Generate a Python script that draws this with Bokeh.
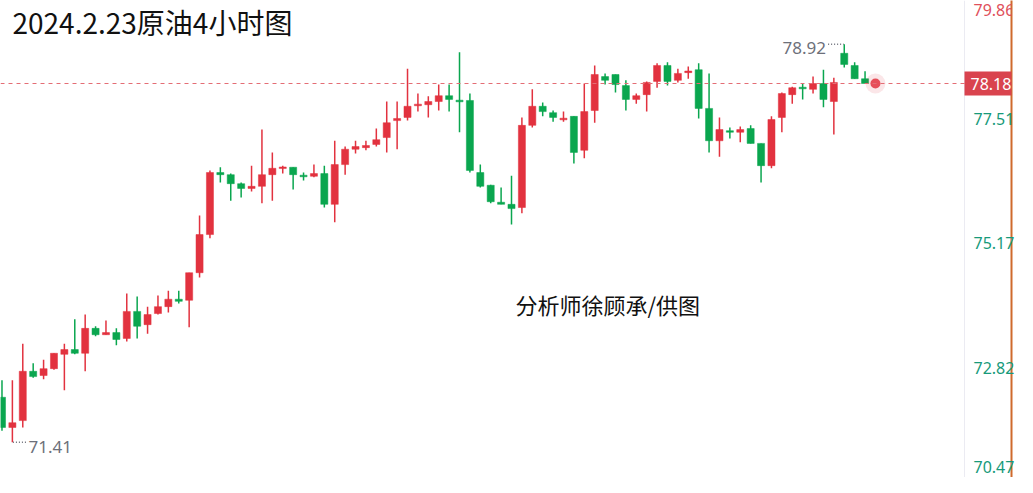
import numpy as np
from bokeh.plotting import figure
from bokeh.models import Range1d, FixedTicker, Span, Label, ColumnDataSource
from bokeh.embed import file_html
from bokeh.resources import INLINE

# ---------------- data ----------------
title_text = "2024.2.23原油4小时图"
credit_text = "分析师徐顾承/供图"
last_price = 78.18
axis_ticks = [77.51, 75.17, 72.82]
axis_top_label = "79.86"
axis_bottom_label = "70.47"

opens = [72.26, 71.69, 71.82, 72.75, 72.67, 72.80, 73.07, 73.16, 73.09, 73.56,
         73.44, 73.48, 73.37, 73.88, 73.63, 73.84, 73.97, 74.11, 74.09, 74.61,
         75.33, 76.50, 76.46, 76.29, 76.20, 76.24, 76.46, 76.58, 76.60, 76.44,
         76.43, 76.48, 75.90, 76.65, 76.94, 76.97, 77.03, 77.16, 77.48, 77.54,
         77.77, 77.78, 77.84, 77.95, 77.86, 77.86, 76.50, 76.26, 75.94, 75.90,
         75.84, 77.39, 77.75, 77.63, 77.50, 77.56, 76.92, 77.67, 78.31, 78.35,
         78.14, 77.88, 77.97, 78.22, 78.52, 78.24, 78.39, 78.44, 77.71, 77.10,
         77.29, 77.26, 77.33, 77.05, 76.63, 77.54, 77.97, 78.10, 78.07, 78.18,
         77.84, 78.75, 78.52, 78.27]
highs = [72.58, 72.58, 73.27, 72.90, 72.97, 73.09, 73.27, 73.73, 73.82, 73.60,
         73.71, 73.56, 74.22, 74.16, 73.97, 74.18, 74.27, 74.27, 74.61, 75.69,
         76.54, 76.60, 76.48, 76.31, 76.63, 77.31, 76.88, 76.63, 76.60, 76.50,
         76.65, 76.63, 77.10, 76.99, 77.10, 77.10, 77.33, 77.84, 77.84, 78.46,
         77.99, 77.94, 78.16, 78.16, 78.77, 77.99, 76.65, 76.27, 76.22, 76.44,
         77.54, 78.07, 77.82, 77.67, 77.65, 77.56, 78.18, 78.52, 78.37, 78.35,
         78.24, 77.99, 78.22, 78.56, 78.58, 78.46, 78.50, 78.56, 78.37, 77.54,
         77.35, 77.37, 77.39, 77.05, 77.56, 78.01, 78.12, 78.18, 78.31, 78.44,
         78.29, 78.92, 78.58, 78.41]
lows = [71.63, 71.41, 71.69, 72.63, 72.60, 72.78, 72.39, 73.07, 72.75, 73.41,
        73.44, 73.24, 73.31, 73.37, 73.46, 73.82, 73.86, 74.03, 73.58, 74.52,
        75.26, 76.31, 75.97, 76.03, 76.14, 75.92, 75.97, 76.48, 76.18, 76.35,
        76.41, 75.84, 75.56, 76.46, 76.86, 76.92, 76.99, 76.88, 76.94, 77.48,
        77.65, 77.54, 77.67, 77.65, 77.26, 76.50, 76.22, 75.92, 75.90, 75.52,
        75.73, 77.35, 77.56, 77.46, 77.46, 76.67, 76.77, 77.44, 78.16, 78.01,
        77.67, 77.80, 77.65, 78.10, 78.14, 78.20, 78.27, 77.52, 76.88, 76.80,
        77.14, 77.07, 77.05, 76.31, 76.58, 77.26, 77.80, 77.88, 77.99, 77.73,
        77.22, 78.48, 78.27, 78.18]
closes = [71.69, 71.78, 72.75, 72.65, 72.80, 73.09, 73.16, 73.09, 73.56, 73.44,
          73.48, 73.35, 73.88, 73.60, 73.82, 73.97, 74.11, 74.07, 74.61, 75.33,
          76.50, 76.46, 76.29, 76.20, 76.24, 76.46, 76.58, 76.60, 76.46, 76.43,
          76.48, 75.90, 76.65, 76.94, 76.99, 77.01, 77.12, 77.44, 77.52, 77.75,
          77.78, 77.84, 77.95, 77.88, 77.84, 76.54, 76.24, 75.95, 75.90, 75.82,
          77.39, 77.75, 77.65, 77.54, 77.52, 76.88, 77.65, 78.35, 78.24, 78.16,
          77.88, 77.95, 78.20, 78.52, 78.22, 78.37, 78.41, 77.71, 77.10, 77.31,
          77.26, 77.31, 77.05, 76.63, 77.50, 77.99, 78.10, 78.09, 78.18, 77.88,
          78.20, 78.54, 78.27, 78.18]

# ---------------- styling ----------------
RED = "#e2323f"
GREEN = "#0aa64f"
AXIS_GREEN = "#179a7a"
GREY_TXT = "#6d707a"
W, H = 1017, 477
PX_PER_UNIT = 53.0
PANEL_X = 964          # left edge of the price-scale column (screen px)

n = len(opens)
idx = np.arange(1, n + 1)
o = np.array(opens); c = np.array(closes); h = np.array(highs); l = np.array(lows)
up = c >= o
colors = np.where(up, RED, GREEN)
top = np.maximum(o, c)
bot = np.minimum(o, c)
mid = (top + bot) / 2
small = (top - bot) < 0.03
top = np.where(small, mid + 0.015, top)
bot = np.where(small, mid - 0.015, bot)

src = ColumnDataSource(dict(x=idx, h=h, l=l, top=top, bot=bot, color=colors))

Y1 = last_price + 83 / PX_PER_UNIT
Y0 = Y1 - H / PX_PER_UNIT
X0 = 0.857
X1 = X0 + W / 10.46

p = figure(width=W, height=H, x_range=Range1d(X0, X1), y_range=Range1d(Y0, Y1),
           output_backend="svg", toolbar_location=None,
           x_axis_location=None, y_axis_location="right",
           min_border_left=0, min_border_top=0, min_border_bottom=0, min_border_right=0)
p.grid.visible = False
p.outline_line_color = None
p.background_fill_color = "white"
p.border_fill_color = "white"

# separator between chart and price scale
p.add_layout(Span(location=PANEL_X, location_units="screen", dimension="height",
                  line_color="#ebebf2", line_width=1))
# last price line
p.add_layout(Span(location=last_price, dimension="width", line_color="#e46d75",
                  line_dash="4 4", line_width=1))

p.segment(x0="x", y0="h", x1="x", y1="l", line_color="color", line_width=1.5, source=src)
p.vbar(x="x", width=0.68, top="top", bottom="bot", fill_color="color",
       line_color="color", line_width=0.5, source=src)

# price scale (axis labels drawn into the scale column)
ax = p.yaxis[0]
bottom_tick = round(Y0 + 10 / PX_PER_UNIT, 3)
ax.ticker = FixedTicker(ticks=axis_ticks + [bottom_tick])
ax.major_label_overrides = {bottom_tick: axis_bottom_label}
ax.axis_line_color = "#cf6a2c"
ax.axis_line_width = 2
ax.major_tick_line_color = None
ax.minor_tick_line_color = None
ax.major_label_text_color = AXIS_GREEN
ax.major_label_text_font = "Noto Sans"
ax.major_label_text_font_size = "16px"
ax.major_label_standoff = (PANEL_X + 9) - W

p.add_layout(Label(x=PANEL_X + 9, y=Y1 - 9 / PX_PER_UNIT, x_units="screen",
                   text=axis_top_label, text_color="#e0505b",
                   text_font="Noto Sans", text_font_size="16px", text_baseline="middle",
                   text_align="left"))

# price box
p.add_layout(Label(x=PANEL_X, y=last_price, x_units="screen", text=f"{last_price:.2f}",
                   text_color="white", text_font="Noto Sans", text_font_size="16px",
                   text_baseline="middle", text_align="left",
                   background_fill_color="#d9434e", padding=6))

# breathing dot
p.scatter(x=[n + 1], y=[closes[-1]], size=20, color=RED, alpha=0.12, line_color=None)
p.scatter(x=[n + 1], y=[closes[-1]], size=10, color=RED, alpha=0.85, line_color=None)

# high / low annotations
imax = int(np.argmax(h)) + 1
imin = int(np.argmin(l)) + 1
p.segment(x0=[imax - 1.55], y0=[h.max()], x1=[imax - 0.05], y1=[h.max()],
          line_color=GREY_TXT, line_dash="1 2", line_width=1.5)
p.add_layout(Label(x=imax - 1.75, y=h.max(), text=f"{h.max():.2f}", text_color=GREY_TXT,
                   text_font="Noto Sans", text_font_size="17px", text_baseline="middle",
                   text_align="right", y_offset=-4))
p.segment(x0=[imin + 0.05], y0=[l.min()], x1=[imin + 1.4], y1=[l.min()],
          line_color=GREY_TXT, line_dash="1 2", line_width=1.5)
p.add_layout(Label(x=imin + 1.55, y=l.min(), text=f"{l.min():.2f}", text_color=GREY_TXT,
                   text_font="Noto Sans", text_font_size="17px", text_baseline="middle",
                   text_align="left", y_offset=-5))

# title and credit
p.add_layout(Label(x=12, y=H - 1, x_units="screen", y_units="screen", text=title_text,
                   text_color="#111111", text_font="Noto Sans CJK SC",
                   text_font_size="28px", text_baseline="top", text_align="left"))
p.add_layout(Label(x=515, y=H - 303, x_units="screen", y_units="screen", text=credit_text,
                   text_color="#111111", text_font="Noto Sans CJK SC", text_font_size="22px",
                   text_baseline="middle", text_align="left"))

open("out.html", "w").write(file_html(p, INLINE))
